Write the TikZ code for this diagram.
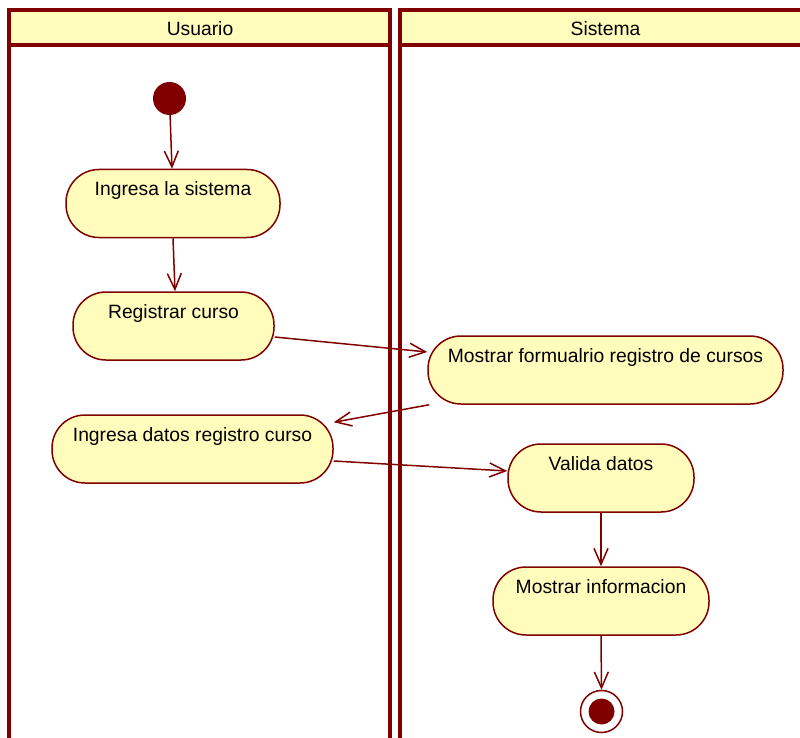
\documentclass[tikz,border=0pt]{standalone}
\usepackage{fontspec}
\setmainfont{Liberation Sans}
\usepackage{tikz}
\usetikzlibrary{positioning, arrows.meta}
\definecolor{umlred}{HTML}{800000}
\definecolor{umlyellow}{HTML}{FFFCBC}

\begin{document}
\begin{tikzpicture}[
    x=1pt, y=-1pt,
    font=\fontsize{19.3}{21}\selectfont,
    act/.style={draw=umlred, fill=umlyellow, line width=1.5pt, rounded corners=33pt,
        minimum height=68pt, inner sep=0pt, text height=26pt, text depth=42pt},
    flow/.style={draw=umlred, line width=1.5pt, -{Straight Barb[length=16pt,width=14pt]}},
    lane/.style={draw=umlred, line width=3.5pt},
]
\useasboundingbox (0,0) rectangle (800,738);

% Swimlanes
\fill[umlyellow] (9,10) rectangle (390,45);
\fill[umlyellow] (400,10) rectangle (806,45);
\draw[lane] (9,745) -- (9,10) -- (390,10) -- (390,745);
\draw[lane] (9,45) -- (390,45);
\draw[lane] (400,745) -- (400,10) -- (806,10) -- (806,745);
\draw[lane] (400,45) -- (806,45);
\node (usuario) at (200,29) {Usuario};
\node (sistema) at (605.5,29) {Sistema};

% Start and end
\node[circle, fill=umlred, minimum size=33pt, inner sep=0pt] (start) at (169.5,98.5) {};
\node[circle, draw=umlred, fill=white, line width=1.5pt, minimum size=42pt, inner sep=0pt] (stop) at (601.5,711.5) {};
\fill[umlred] (stop.center) circle (13pt);

% Usuario activities
\node[act, minimum width=214pt] (ingresa) at (173,203.5) {Ingresa la sistema};
\node[act, minimum width=201pt] (registrar) at (173.5,326) {Registrar curso};
\node[act, minimum width=281pt] (datos) at (192.5,449) {Ingresa datos registro curso};

% Sistema activities
\node[act, minimum width=355pt] (formulario) at (605.5,370) {Mostrar formualrio registro de cursos};
\node[act, minimum width=186pt] (valida) at (601,478) {Valida datos};
\node[act, minimum width=216pt] (informacion) at (601,601) {Mostrar informacion};

% Flows
\draw[flow] (start) -- ([xshift=-1pt]ingresa.north);
\draw[flow] (ingresa.south) -- ([xshift=1.5pt]registrar.north);
\draw[flow] ([yshift=-11pt]registrar.east) -- ([yshift=18pt]formulario.west);
\draw[flow] ([xshift=2pt]formulario.south west) -- ([yshift=-8pt]datos.north east);
\draw[flow] ([yshift=-12pt]datos.east) -- ([yshift=7pt]valida.west);
\draw[flow] (valida.south) -- (informacion.north);
\draw[flow] (informacion.south) -- (stop.north);

\end{tikzpicture}
\end{document}
